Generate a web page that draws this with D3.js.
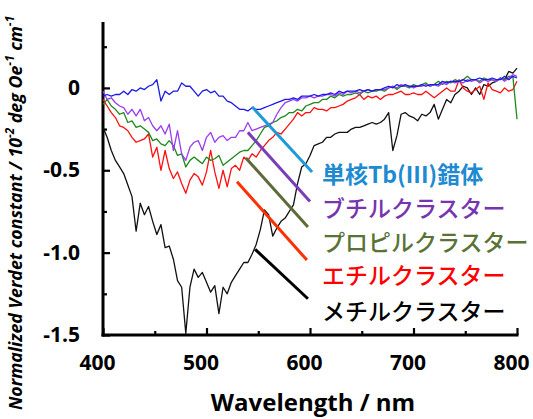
<!DOCTYPE html>
<html><head><meta charset="utf-8">
<script src="https://cdn.jsdelivr.net/npm/d3@7"></script>
<style>html,body{margin:0;padding:0;background:#fff;} svg{display:block}</style>
</head><body>
<svg id="chart" width="533" height="419"></svg>
<script>
// Wavelength (nm)
const wavelength = [400,404,408,412,416,420,424,428,432,436,440,444,448,452,456,460,464,468,472,476,
480,484,488,492,496,500,504,508,512,516,520,524,528,532,536,540,544,548,552,556,
560,564,568,572,576,580,584,588,592,596,600,604,608,612,616,620,624,628,632,636,
640,644,648,652,656,660,664,668,672,676,680,684,688,692,696,700,704,708,712,716,
720,724,728,732,736,740,744,748,752,756,760,764,768,772,776,780,784,788,792,796,800];

// Normalized Verdet constant (10^-2 deg Oe^-1 cm^-1)
const tbComplex = [-0.05,-0.04,-0.05,-0.04,-0.04,-0.02,-0.04,-0.01,-0.02,0.00,
-0.01,0.01,0.02,0.05,-0.08,-0.02,-0.04,-0.02,-0.02,0.03,
0.01,0.01,-0.02,-0.05,-0.02,-0.01,-0.03,-0.02,-0.05,-0.05,
-0.08,-0.09,-0.11,-0.13,-0.13,-0.14,-0.12,-0.13,-0.13,-0.12,
-0.11,-0.10,-0.09,-0.08,-0.07,-0.07,-0.06,-0.07,-0.05,-0.05,
-0.05,-0.04,-0.05,-0.04,-0.04,-0.03,-0.04,-0.02,-0.03,-0.02,
-0.02,-0.02,-0.01,-0.02,-0.01,-0.02,-0.01,-0.01,0.00,0.01,
0.00,0.02,0.01,0.02,0.01,0.01,0.01,0.02,0.01,0.02,
0.02,0.02,0.04,0.03,0.04,0.04,0.04,0.05,0.04,0.05,
0.05,0.06,0.05,0.05,0.06,0.05,0.05,0.07,0.05,0.07,0.06];

const butyl = [-0.02,-0.07,-0.06,-0.09,-0.11,-0.12,-0.16,-0.13,-0.17,-0.13,
-0.20,-0.18,-0.23,-0.26,-0.23,-0.28,-0.22,-0.38,-0.26,-0.40,
-0.44,-0.36,-0.33,-0.32,-0.38,-0.30,-0.27,-0.33,-0.30,-0.29,
-0.32,-0.30,-0.30,-0.26,-0.26,-0.21,-0.26,-0.25,-0.24,-0.23,
-0.22,-0.21,-0.16,-0.12,-0.09,-0.08,-0.07,-0.08,-0.06,-0.06,
-0.05,-0.06,-0.05,-0.05,-0.04,-0.04,-0.05,-0.03,-0.04,-0.02,
-0.03,-0.02,-0.03,-0.02,-0.01,-0.02,-0.01,-0.01,-0.01,0.00,
0.01,0.00,0.02,0.01,0.01,0.00,0.01,0.01,0.02,0.01,
0.02,0.01,0.03,0.02,0.04,0.03,0.04,0.03,0.05,0.04,
0.05,0.03,0.05,0.04,0.05,0.04,0.06,0.04,0.06,0.08,0.07];

const propyl = [-0.10,-0.07,-0.11,-0.13,-0.16,-0.15,-0.21,-0.20,-0.24,-0.23,
-0.25,-0.27,-0.32,-0.31,-0.34,-0.35,-0.32,-0.35,-0.41,-0.40,
-0.48,-0.44,-0.42,-0.44,-0.46,-0.42,-0.44,-0.43,-0.41,-0.47,
-0.45,-0.43,-0.41,-0.39,-0.38,-0.38,-0.35,-0.32,-0.28,-0.24,
-0.23,-0.21,-0.20,-0.18,-0.17,-0.15,-0.15,-0.13,-0.14,-0.11,
-0.10,-0.09,-0.09,-0.07,-0.07,-0.05,-0.06,-0.04,-0.05,-0.04,
-0.04,-0.03,-0.04,-0.02,-0.03,-0.02,-0.02,-0.01,-0.02,0.00,
0.01,-0.01,0.01,0.01,0.00,0.02,0.01,0.02,0.03,0.01,
0.02,0.04,0.02,0.04,0.03,0.05,0.04,0.05,0.07,0.05,
0.05,0.04,0.06,0.05,0.05,0.04,0.06,0.05,0.07,0.07,-0.19];

const ethyl = [-0.07,-0.11,-0.15,-0.18,-0.23,-0.24,-0.26,-0.30,-0.33,-0.32,
-0.31,-0.28,-0.42,-0.36,-0.50,-0.38,-0.49,-0.55,-0.51,-0.58,
-0.64,-0.56,-0.52,-0.54,-0.59,-0.51,-0.38,-0.51,-0.61,-0.50,
-0.60,-0.49,-0.47,-0.50,-0.42,-0.44,-0.40,-0.42,-0.38,-0.35,
-0.32,-0.30,-0.27,-0.28,-0.25,-0.22,-0.19,-0.15,-0.17,-0.15,
-0.15,-0.12,-0.13,-0.13,-0.14,-0.12,-0.12,-0.11,-0.10,-0.08,
-0.07,-0.06,-0.04,-0.07,-0.05,-0.06,-0.05,-0.07,-0.05,-0.04,
-0.04,-0.03,-0.02,-0.04,-0.04,-0.03,-0.04,-0.04,-0.02,-0.04,
-0.06,-0.04,-0.02,0.00,-0.02,-0.02,0.05,0.00,-0.02,-0.03,
-0.01,0.01,-0.07,0.03,-0.01,-0.02,-0.03,0.00,-0.02,-0.01,0.04];

const methyl = [-0.24,-0.30,-0.38,-0.44,-0.48,-0.52,-0.59,-0.66,-0.87,-0.70,
-0.77,-0.72,-0.81,-0.89,-0.83,-0.97,-0.96,-1.04,-1.17,-1.21,
-1.49,-1.21,-1.10,-1.15,-1.12,-1.18,-1.24,-1.20,-1.37,-1.21,
-1.25,-1.18,-1.14,-1.10,-1.06,-1.06,-1.01,-0.95,-0.86,-0.74,
-0.77,-0.90,-0.85,-0.81,-0.79,-0.75,-0.71,-0.58,-0.48,-0.46,
-0.41,-0.35,-0.34,-0.33,-0.30,-0.30,-0.28,-0.27,-0.27,-0.27,
-0.25,-0.24,-0.24,-0.23,-0.22,-0.21,-0.22,-0.21,-0.19,-0.15,
-0.38,-0.29,-0.16,-0.15,-0.17,-0.18,-0.20,-0.16,-0.17,-0.15,
-0.10,-0.19,-0.13,-0.07,-0.09,-0.04,-0.02,0.01,0.00,-0.04,
0.00,-0.04,0.02,0.01,0.03,0.04,0.06,0.05,0.10,0.09,0.12];

const seriesNames = ["メチルクラスター","エチルクラスター","プロピルクラスター","ブチルクラスター","単核Tb(III)錯体"];
const seriesValues = [methyl, ethyl, propyl, butyl, tbComplex];
const seriesColors = ["#111111","#ff1010","#1e8a1e","#9b3cf0","#1a1ae6"];

// annotation leader lines: [nm, value]
const leaderNames = ["単核Tb(III)錯体","ブチルクラスター","プロピルクラスター","エチルクラスター","メチルクラスター"];
const leaderStart = [[544,-0.115],[540,-0.27],[538,-0.425],[529.5,-0.57],[547,-0.98]];
const leaderEnd = [[602,-0.51],[600,-0.69],[598,-0.845],[597,-1.045],[598,-1.28]];
const labelAnchor = [[611.5,-0.516],[611.5,-0.723],[611.5,-0.929],[611.5,-1.129],[611.5,-1.348]];
const leaderColors = ["#1f9ad8","#7a3db8","#5d6b3a","#ff3000","#000000"];
const labelColors = ["#1e8ad2","#7634b0","#5b7236","#ff0000","#000000"];

const xMajorTicks = [400,500,600,700,800];
const xMinorTicks = [450,550,650,750];
const yMajorTicks = [0,-0.5,-1.0,-1.5];
const yMinorTicks = [0.25,-0.25,-0.75,-1.25];
const yTickLabels = ["0","-0.5","-1.0","-1.5"];

const svg = d3.select("#chart");
const x = d3.scaleLinear().domain([400,800]).range([103,517]);
const y = d3.scaleLinear().domain([-1.5,0.4]).range([335,22]);

// x axis
const gx = svg.append("g").attr("transform","translate(0,335)");
gx.call(d3.axisBottom(x).tickValues(xMinorTicks).tickSizeInner(-4).tickSizeOuter(0).tickFormat(""));
const gx2 = svg.append("g").attr("transform","translate(0,335)");
gx2.call(d3.axisBottom(x).tickValues(xMajorTicks).tickSizeInner(-7).tickSizeOuter(0).tickPadding(20).tickFormat(d3.format("d")));
gx.select(".domain").attr("stroke","#000").attr("stroke-width",3).attr("d","M101.5,0H518.5");
gx2.select(".domain").remove();
gx2.selectAll("text").attr("font-family","'Open Sans'").attr("font-weight","bold").attr("font-size",21).attr("fill","#000").attr("dx",-6);

// y axis
const gy = svg.append("g").attr("transform","translate(103,0)");
gy.call(d3.axisLeft(y).tickValues(yMinorTicks).tickSizeInner(-4).tickSizeOuter(0).tickFormat(""));
const gy2 = svg.append("g").attr("transform","translate(103,0)");
gy2.call(d3.axisLeft(y).tickValues(yMajorTicks).tickSizeInner(-7).tickSizeOuter(0).tickPadding(23).tickFormat((d,i)=>yTickLabels[i]));
gy.select(".domain").attr("stroke","#000").attr("stroke-width",3).attr("d","M0,22V336.5");
gy2.select(".domain").remove();
svg.selectAll("g .tick line").attr("stroke","#000").attr("stroke-width",2.2);
gy2.selectAll("text").attr("font-family","'Open Sans'").attr("font-weight","bold").attr("font-size",21).attr("fill","#000");

// data lines
const line = d3.line().x((d,i)=>x(wavelength[i])).y(d=>y(d));
seriesValues.forEach((vals,k)=>{
  svg.append("path").datum(vals).attr("d",line).attr("fill","none")
    .attr("stroke",seriesColors[k]).attr("stroke-width",1.3).attr("stroke-linejoin","round");
});

// leader lines and labels
leaderNames.forEach((name,k)=>{
  svg.append("line")
    .attr("x1",x(leaderStart[k][0])).attr("y1",y(leaderStart[k][1]))
    .attr("x2",x(leaderEnd[k][0])).attr("y2",y(leaderEnd[k][1]))
    .attr("stroke",leaderColors[k]).attr("stroke-width",3);
  svg.append("text").attr("x",x(labelAnchor[k][0])).attr("y",y(labelAnchor[k][1]))
    .attr("dominant-baseline","central")
    .attr("font-family","'Noto Sans CJK JP'").attr("font-size",23)
    .attr("font-weight", k===0 ? "bold" : 500)
    .attr("fill",labelColors[k]).text(name);
});

// axis titles
svg.append("text").attr("x",313).attr("y",411).attr("text-anchor","middle")
  .attr("font-family","'Open Sans'").attr("font-weight","bold").attr("font-size",24)
  .text("Wavelength / nm");

const yt = svg.append("text").attr("transform","translate(22,213) rotate(-90)")
  .attr("text-anchor","middle")
  .attr("font-family","'Open Sans'").attr("font-weight","bold").attr("font-style","italic").attr("font-size",15);
yt.append("tspan").text("Normalized Verdet constant / 10");
yt.append("tspan").attr("baseline-shift","super").attr("font-size",10).text("-2");
yt.append("tspan").text(" deg Oe");
yt.append("tspan").attr("baseline-shift","super").attr("font-size",10).text("-1");
yt.append("tspan").text(" cm");
yt.append("tspan").attr("baseline-shift","super").attr("font-size",10).text("-1");
const len = yt.node().getComputedTextLength();
const fs = 15 * 395 / len;
yt.attr("font-size", fs);
yt.selectAll("tspan[baseline-shift]").attr("font-size", fs*0.66);
</script>
</body></html>
